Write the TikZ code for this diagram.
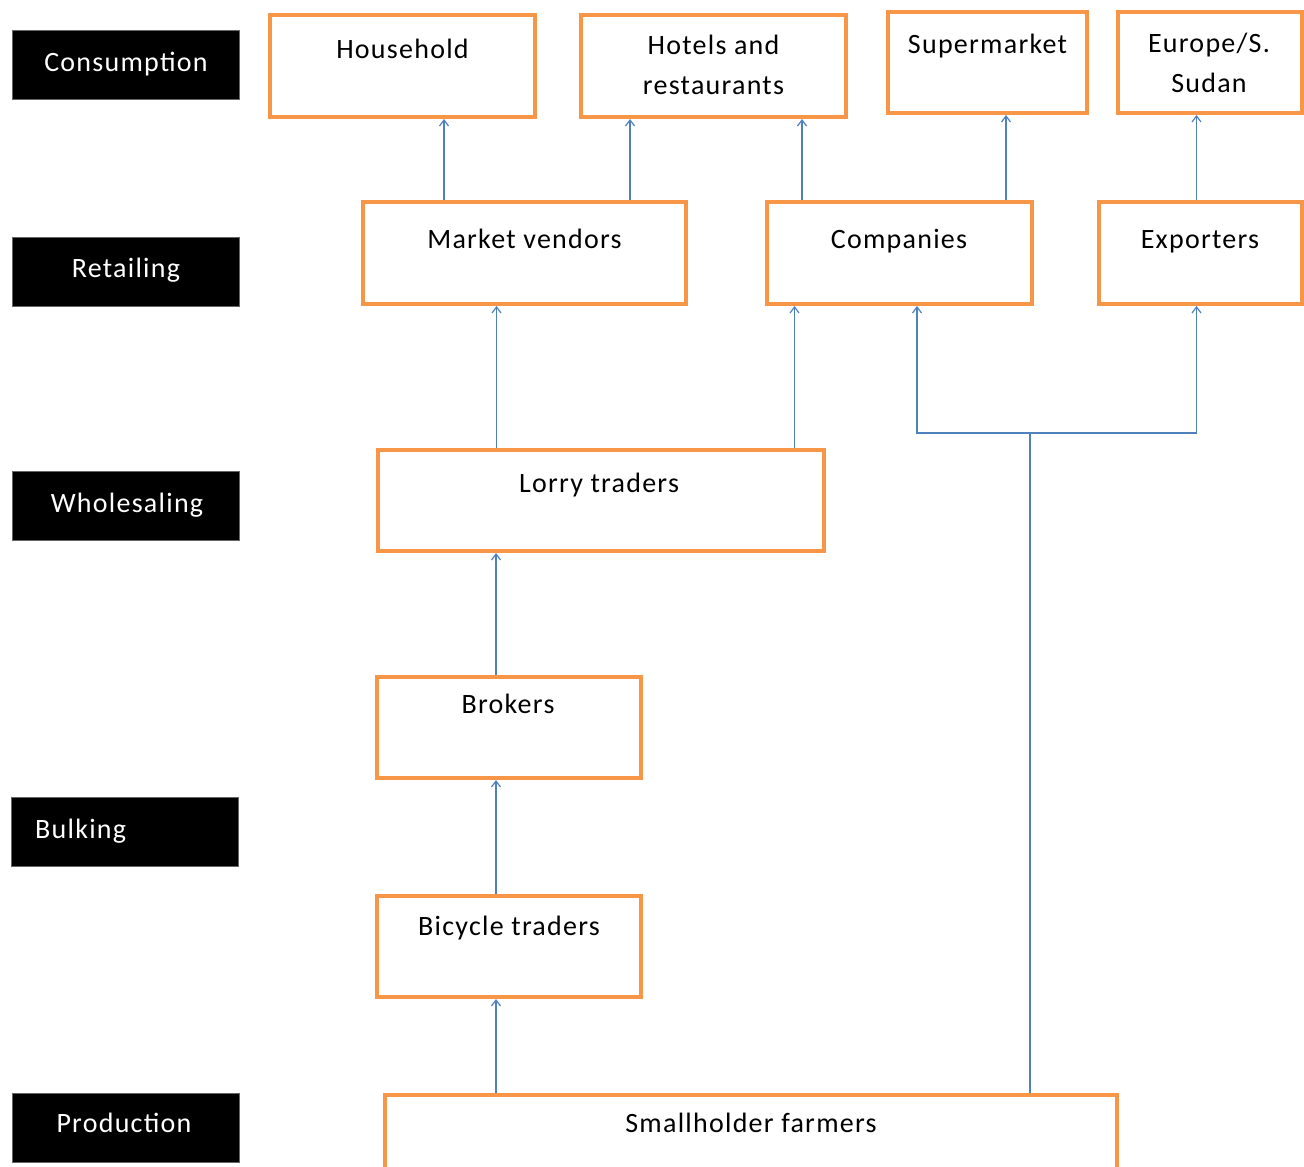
\documentclass[tikz,border=0pt]{standalone}
\usepackage{fontspec}
\setmainfont[LetterSpace=4.5]{Carlito}
\usetikzlibrary{arrows.meta}
\definecolor{boxorange}{HTML}{F79646}
\definecolor{arrblue}{HTML}{4F81BD}
\tikzset{
  obox/.style={draw=boxorange, line width=4pt, fill=white, rectangle, inner sep=0pt},
  kbox/.style={fill=black, draw=black!60, line width=0.8pt, rectangle, inner sep=0pt, minimum width=227pt, minimum height=69pt},
  ktext/.style={text=white, font=\fontsize{28}{34}\selectfont, anchor=base, inner sep=0pt},
  otext/.style={text=black, font=\fontsize{28}{40}\selectfont, anchor=base, inner sep=0pt, align=center},
  arr/.style={draw=arrblue, line width=1.4pt, -{Straight Barb[length=6pt,width=9pt,line width=1.2pt]}},
  conn/.style={draw=arrblue, line width=1.4pt}
}
\begin{document}
\begin{tikzpicture}[x=1pt,y=-1pt]
\clip (0,0) rectangle (1304,1167);
\fill[white] (0,0) rectangle (1304,1167);

% stage labels
\node[kbox] (k1) at (125.5,65) {};
\node[ktext] (k1t) at (126,71) {Consumption};
\node[kbox] (k2) at (125.5,271.5) {};
\node[ktext] (k2t) at (126,277) {Retailing};
\node[kbox] (k3) at (125.5,506) {};
\node[ktext] (k3t) at (127,512) {Wholesaling};
\node[kbox] (k4) at (124.5,831.5) {};
\node[ktext, anchor=base west] (k4t) at (35,838) {Bulking};
\node[kbox] (k5) at (125.5,1128) {};
\node[ktext] (k5t) at (124,1132) {Production};

% orange boxes
\node[obox, minimum width=265pt, minimum height=102pt] (hh) at (402.5,66) {};
\node[otext] (hht) at (402.5,58) {Household};
\node[obox, minimum width=265pt, minimum height=102pt] (ht) at (713.5,66) {};
\node[otext] (htt) at (713.5,94) {Hotels and\\restaurants};
\node[obox, minimum width=199pt, minimum height=101pt] (sm) at (987.5,62.5) {};
\node[otext] (smt) at (987.5,53) {Supermarket};
\node[obox, minimum width=184pt, minimum height=101pt] (eu) at (1210,62.5) {};
\node[otext] (eut) at (1209,92) {Europe/S.\\Sudan};

\node[obox, minimum width=323pt, minimum height=102pt] (mv) at (524.5,253) {};
\node[otext] (mvt) at (524.5,248) {Market vendors};
\node[obox, minimum width=265pt, minimum height=102pt] (co) at (899.5,253) {};
\node[otext] (cot) at (899,248) {Companies};
\node[obox, minimum width=203pt, minimum height=102pt] (ex) at (1200.5,253) {};
\node[otext] (ext) at (1200,248) {Exporters};

\node[obox, minimum width=446pt, minimum height=101pt] (lt) at (600.5,500.5) {};
\node[otext] (ltt) at (599,492) {Lorry traders};

\node[obox, minimum width=264pt, minimum height=101pt] (br) at (509,727.5) {};
\node[otext] (brt) at (508,713) {Brokers};

\node[obox, minimum width=264pt, minimum height=101pt] (bt) at (509,946.5) {};
\node[otext] (btt) at (509,935) {Bicycle traders};

\node[obox, minimum width=732pt, minimum height=140pt] (sf) at (751,1165) {};
\node[otext] (sft) at (751,1132) {Smallholder farmers};

% connectors
\draw[arr] ([xshift=83pt]mv.north west) -- ([xshift=83pt]mv.north west |- hh.south);
\draw[arr] ([xshift=269pt]mv.north west) -- ([xshift=269pt]mv.north west |- ht.south);
\draw[arr] ([xshift=37pt]co.north west) -- ([xshift=37pt]co.north west |- ht.south);
\draw[arr] ([xshift=241pt]co.north west) -- ([xshift=241pt]co.north west |- sm.south);
\draw[arr] ([xshift=-4pt]ex.north) -- ([xshift=-4pt]ex.north |- eu.south);

\draw[arr] ([xshift=121pt]lt.north west) -- ([xshift=121pt]lt.north west |- mv.south);
\draw[arr] ([xshift=419pt]lt.north west) -- ([xshift=419pt]lt.north west |- co.south);

\draw[arr] ([xshift=121pt]br.north west) -- ([xshift=121pt]br.north west |- lt.south);
\draw[arr] ([xshift=121pt]bt.north west) -- ([xshift=121pt]bt.north west |- br.south);
\draw[arr] ([xshift=113pt]sf.north west) -- ([xshift=113pt]sf.north west |- bt.south);

\coordinate (trunk) at ([xshift=647pt]sf.north west);
\coordinate (fork) at ([yshift=660pt]trunk);
\draw[conn] (trunk) -- (fork);
\draw[arr] (fork) -| ([xshift=152pt]co.south west);
\draw[arr] (fork) -| ([xshift=-4pt]ex.south);
\end{tikzpicture}
\end{document}
